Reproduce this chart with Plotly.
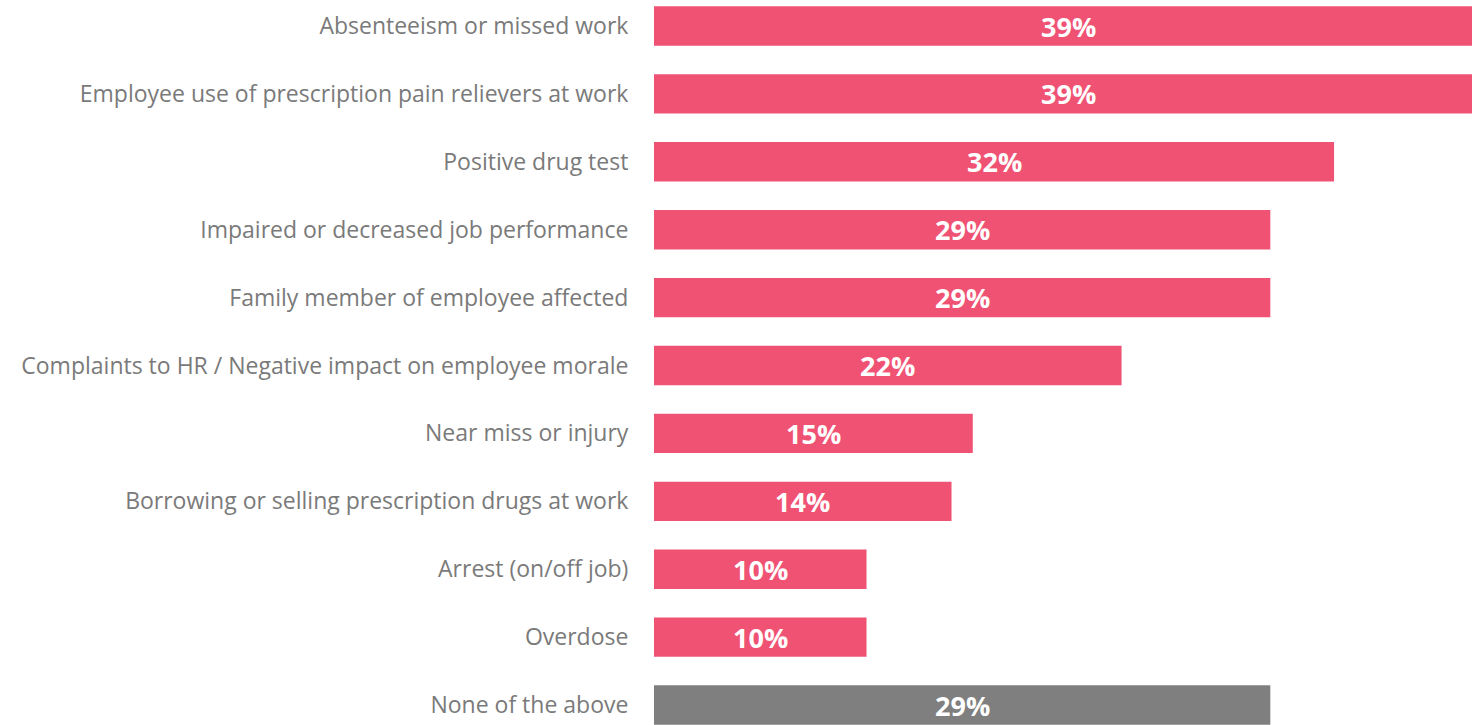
import plotly.graph_objects as go

categories = [
    "Absenteeism or missed work",
    "Employee use of prescription pain relievers at work",
    "Positive drug test",
    "Impaired or decreased job performance",
    "Family member of employee affected",
    "Complaints to HR / Negative impact on employee morale",
    "Near miss or injury",
    "Borrowing or selling prescription drugs at work",
    "Arrest (on/off job)",
    "Overdose",
    "None of the above",
]
values = [39, 39, 32, 29, 29, 22, 15, 14, 10, 10, 29]
colors = ["#F05274"] * 10 + ["#7F7F7F"]
labels = [f"{v}%" for v in values]

fig = go.Figure(
    go.Bar(
        y=categories,
        x=values,
        orientation="h",
        marker=dict(color=colors, line=dict(width=0)),
        width=0.58,
        hoverinfo="skip",
    )
)

for c, v, t in zip(categories, values, labels):
    fig.add_annotation(
        x=v / 2, y=c, text=t, showarrow=False,
        font=dict(family="Open Sans", size=27, color="white", weight="bold"),
        xanchor="center", yanchor="middle",
    )

fig.update_layout(
    width=1472, height=725,
    margin=dict(l=654, r=0, t=0, b=0),
    paper_bgcolor="white", plot_bgcolor="white",
    showlegend=False,
    xaxis=dict(range=[0, 38.49], visible=False, showgrid=False, zeroline=False),
    yaxis=dict(
        categoryorder="array", categoryarray=categories,
        range=[10.294, -0.383],
        showgrid=False, zeroline=False, showline=False,
        ticks="outside", ticklen=20, tickcolor="rgba(0,0,0,0)",
        tickfont=dict(family="Open Sans", size=23, color="#7A7A7A"),
    ),
)

fig.write_html(
    "out.html",
    config={"displayModeBar": False},
    post_script="document.body.style.margin='0';document.body.style.overflow='hidden';",
)
